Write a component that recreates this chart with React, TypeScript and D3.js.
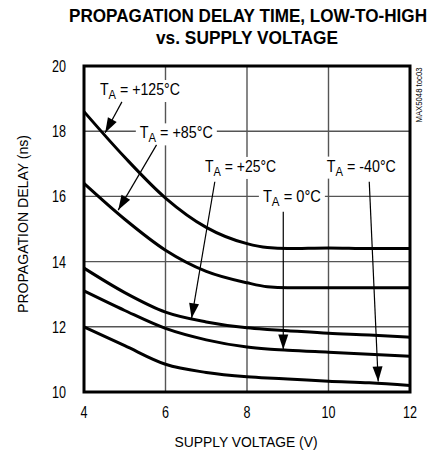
import React from 'react'
import * as d3 from 'd3'

// supply voltage (V)
const voltages = [4, 5, 6, 7, 8, 8.5, 9, 10, 11, 12]
// propagation delay (ns) per ambient temperature
const delay125 = [18.6, 17.2, 15.95, 15.05, 14.55, 14.43, 14.4, 14.42, 14.4, 14.4]
const delay85 = [16.4, 15.3, 14.35, 13.7, 13.35, 13.23, 13.2, 13.2, 13.2, 13.2]
const delay25 = [13.8, 13.05, 12.45, 12.15, 11.97, 11.92, 11.88, 11.8, 11.75, 11.68]
const delay0 = [13.1, 12.5, 11.95, 11.6, 11.38, 11.32, 11.28, 11.22, 11.16, 11.1]
const delayM40 = [12.0, 11.42, 10.85, 10.6, 10.47, 10.43, 10.4, 10.33, 10.28, 10.2]

const xTicks = [4, 6, 8, 10, 12]
const yTicks = [10, 12, 14, 16, 18, 20]

// label text position, width and arrow (from -> tip), in data units
const labels = [
  { temp: '+125°C', tx: 4.39, ty: 19.11, w: 80, fx: 4.93, fy: 18.9, px: 4.52, py: 17.95 },
  { temp: '+85°C', tx: 5.37, ty: 17.78, w: 73, fx: 5.78, fy: 17.58, px: 4.84, py: 15.58 },
  { temp: '+25°C', tx: 6.97, ty: 16.75, w: 71, fx: 7.21, fy: 16.45, px: 6.64, py: 12.26 },
  { temp: '0°C', tx: 8.39, ty: 15.84, w: 58, fx: 8.89, fy: 15.53, px: 8.89, py: 11.3 },
  { temp: '-40°C', tx: 9.96, ty: 16.76, w: 69, fx: 11.0, fy: 16.45, px: 11.22, py: 10.32 },
]

const W = 438
const H = 453
const margin = { top: 66, right: 28, bottom: 61, left: 84 }
const font = "'Liberation Sans', Arial, sans-serif"

export default function App() {
  const x = d3.scaleLinear().domain([4, 12]).range([margin.left, W - margin.right])
  const y = d3.scaleLinear().domain([10, 20]).range([H - margin.bottom, margin.top])

  const line = d3.line<number>()
    .x((_, i) => x(voltages[i]))
    .y(d => y(d))
    .curve(d3.curveMonotoneX)

  const series = [delay125, delay85, delay25, delay0, delayM40]

  const arrowHead = (fx: number, fy: number, px: number, py: number) => {
    const x1 = x(fx), y1 = y(fy), x2 = x(px), y2 = y(py)
    const a = Math.atan2(y2 - y1, x2 - x1)
    const len = 15, half = 5
    const bx = x2 - len * Math.cos(a), by = y2 - len * Math.sin(a)
    const nx = -Math.sin(a) * half, ny = Math.cos(a) * half
    return `M${x2},${y2}L${bx + nx},${by + ny}L${bx - nx},${by - ny}Z`
  }

  return (
    <>
      <style>{`body{margin:0}`}</style>
      <svg width={W} height={H} style={{ display: 'block', background: '#fff' }} fontFamily={font}>
        {/* title */}
        <text x={248} y={22} textAnchor="middle" fontSize={19} fontWeight="bold" textLength={358} lengthAdjust="spacingAndGlyphs">PROPAGATION DELAY TIME, LOW-TO-HIGH</text>
        <text x={247} y={44} textAnchor="middle" fontSize={19} fontWeight="bold" textLength={182} lengthAdjust="spacingAndGlyphs">vs. SUPPLY VOLTAGE</text>

        {/* grid */}
        {xTicks.slice(1, -1).map(t => (
          <line key={'gx' + t} x1={x(t)} x2={x(t)} y1={y(20)} y2={y(10)} stroke="#555" strokeWidth={1.4} />
        ))}
        {yTicks.slice(1, -1).map(t => (
          <line key={'gy' + t} x1={x(4)} x2={x(12)} y1={y(t)} y2={y(t)} stroke="#555" strokeWidth={1.4} />
        ))}

        {/* curves */}
        {series.map((s, i) => (
          <path key={'s' + i} d={line(s) || ''} fill="none" stroke="#000" strokeWidth={3} />
        ))}

        {/* annotations */}
        {labels.map((l, i) => {
          const tx = x(l.tx), ty = y(l.ty)
          return (
            <g key={'l' + i}>
              <rect x={tx - 4} y={ty - 15} width={l.w + 8} height={22} fill="#fff" />
              <text x={tx} y={ty} fontSize={16.5} textLength={l.w} lengthAdjust="spacingAndGlyphs">
                T<tspan fontSize={13} dy={4}>A</tspan>
                <tspan dy={-4}> = {l.temp}</tspan>
              </text>
              <line x1={x(l.fx)} y1={y(l.fy)} x2={x(l.px)} y2={y(l.py)} stroke="#000" strokeWidth={1.2} />
              <path d={arrowHead(l.fx, l.fy, l.px, l.py)} fill="#000" />
            </g>
          )
        })}

        {/* frame */}
        <rect x={x(4)} y={y(20)} width={x(12) - x(4)} height={y(10) - y(20)} fill="none" stroke="#000" strokeWidth={3} />

        {/* tick labels */}
        {yTicks.map(t => (
          <text key={'ty' + t} x={x(4) - 18} y={y(t)} dy="0.36em" textAnchor="end" fontSize={16.5} textLength={14} lengthAdjust="spacingAndGlyphs">{t}</text>
        ))}
        {xTicks.map(t => (
          <text key={'tx' + t} x={x(t)} y={418} textAnchor="middle" fontSize={16.5} textLength={String(t).length * 7} lengthAdjust="spacingAndGlyphs">{t}</text>
        ))}

        {/* axis titles */}
        <text x={246} y={447} textAnchor="middle" fontSize={15.5} textLength={143} lengthAdjust="spacingAndGlyphs">SUPPLY VOLTAGE (V)</text>
        <text transform={`translate(28,224) rotate(-90)`} textAnchor="middle" fontSize={15.5} textLength={178} lengthAdjust="spacingAndGlyphs">PROPAGATION DELAY (ns)</text>
        <text transform={`translate(422,95) rotate(-90)`} textAnchor="middle" fontSize={9.5} textLength={55} lengthAdjust="spacingAndGlyphs">MAX5048 toc03</text>
      </svg>
    </>
  )
}
